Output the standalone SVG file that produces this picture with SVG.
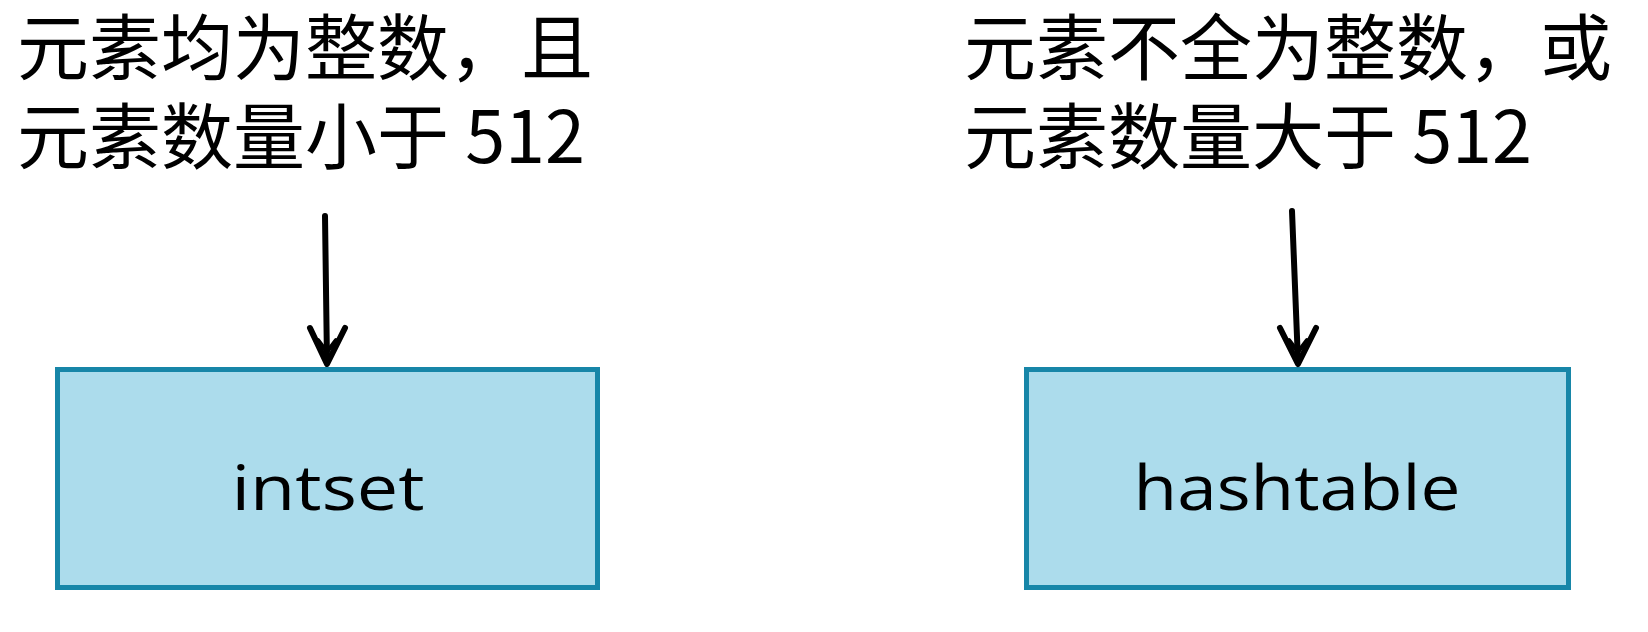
<svg xmlns="http://www.w3.org/2000/svg" width="1648" height="632" viewBox="0 0 1648 632">
<defs>
<style>
.cap{font-family:"Noto Sans CJK SC","Noto Sans CJK JP",sans-serif;font-size:72px;fill:#000;}
.box{fill:#acdcec;stroke:#1786a8;stroke-width:5;}
.lbl{font-family:"Open Sans","Noto Sans",sans-serif;font-size:62px;fill:#000;text-anchor:middle;}
.arr{fill:none;stroke:#000;stroke-width:6;stroke-linecap:round;stroke-linejoin:round;}
.head{fill:none;stroke:#000;stroke-width:4;stroke-linecap:round;stroke-linejoin:round;}
</style>
</defs>
<rect width="1648" height="632" fill="#ffffff"/>
<g id="cond-left">
<text class="cap" x="17" y="74">元素均为整数，且</text>
<text class="cap" x="17" y="163">元素数量小于 512</text>
</g>
<g id="cond-right">
<text class="cap" x="964" y="74">元素不全为整数，或</text>
<text class="cap" x="964" y="163">元素数量大于 512</text>
</g>
<g id="node-intset">
<rect class="box" x="57.5" y="369.5" width="540" height="218"/>
<text class="lbl" x="328" y="510" textLength="193" lengthAdjust="spacingAndGlyphs">intset</text>
</g>
<g id="node-hashtable">
<rect class="box" x="1026.5" y="369.5" width="542" height="218"/>
<text class="lbl" x="1297" y="510" textLength="327" lengthAdjust="spacingAndGlyphs">hashtable</text>
</g>
<g id="connectors">
<path class="arr" d="M325 216 L327 362"/>
<path class="arr" d="M310 328 L327 364 L345 328"/>
<path class="head" d="M318 340 L327 352 L336 340"/>
<path class="arr" d="M1292 211 L1298 362"/>
<path class="arr" d="M1280 328 L1298 364 L1316 328"/>
<path class="head" d="M1289 340 L1298 352 L1307 340"/>
</g>
</svg>
